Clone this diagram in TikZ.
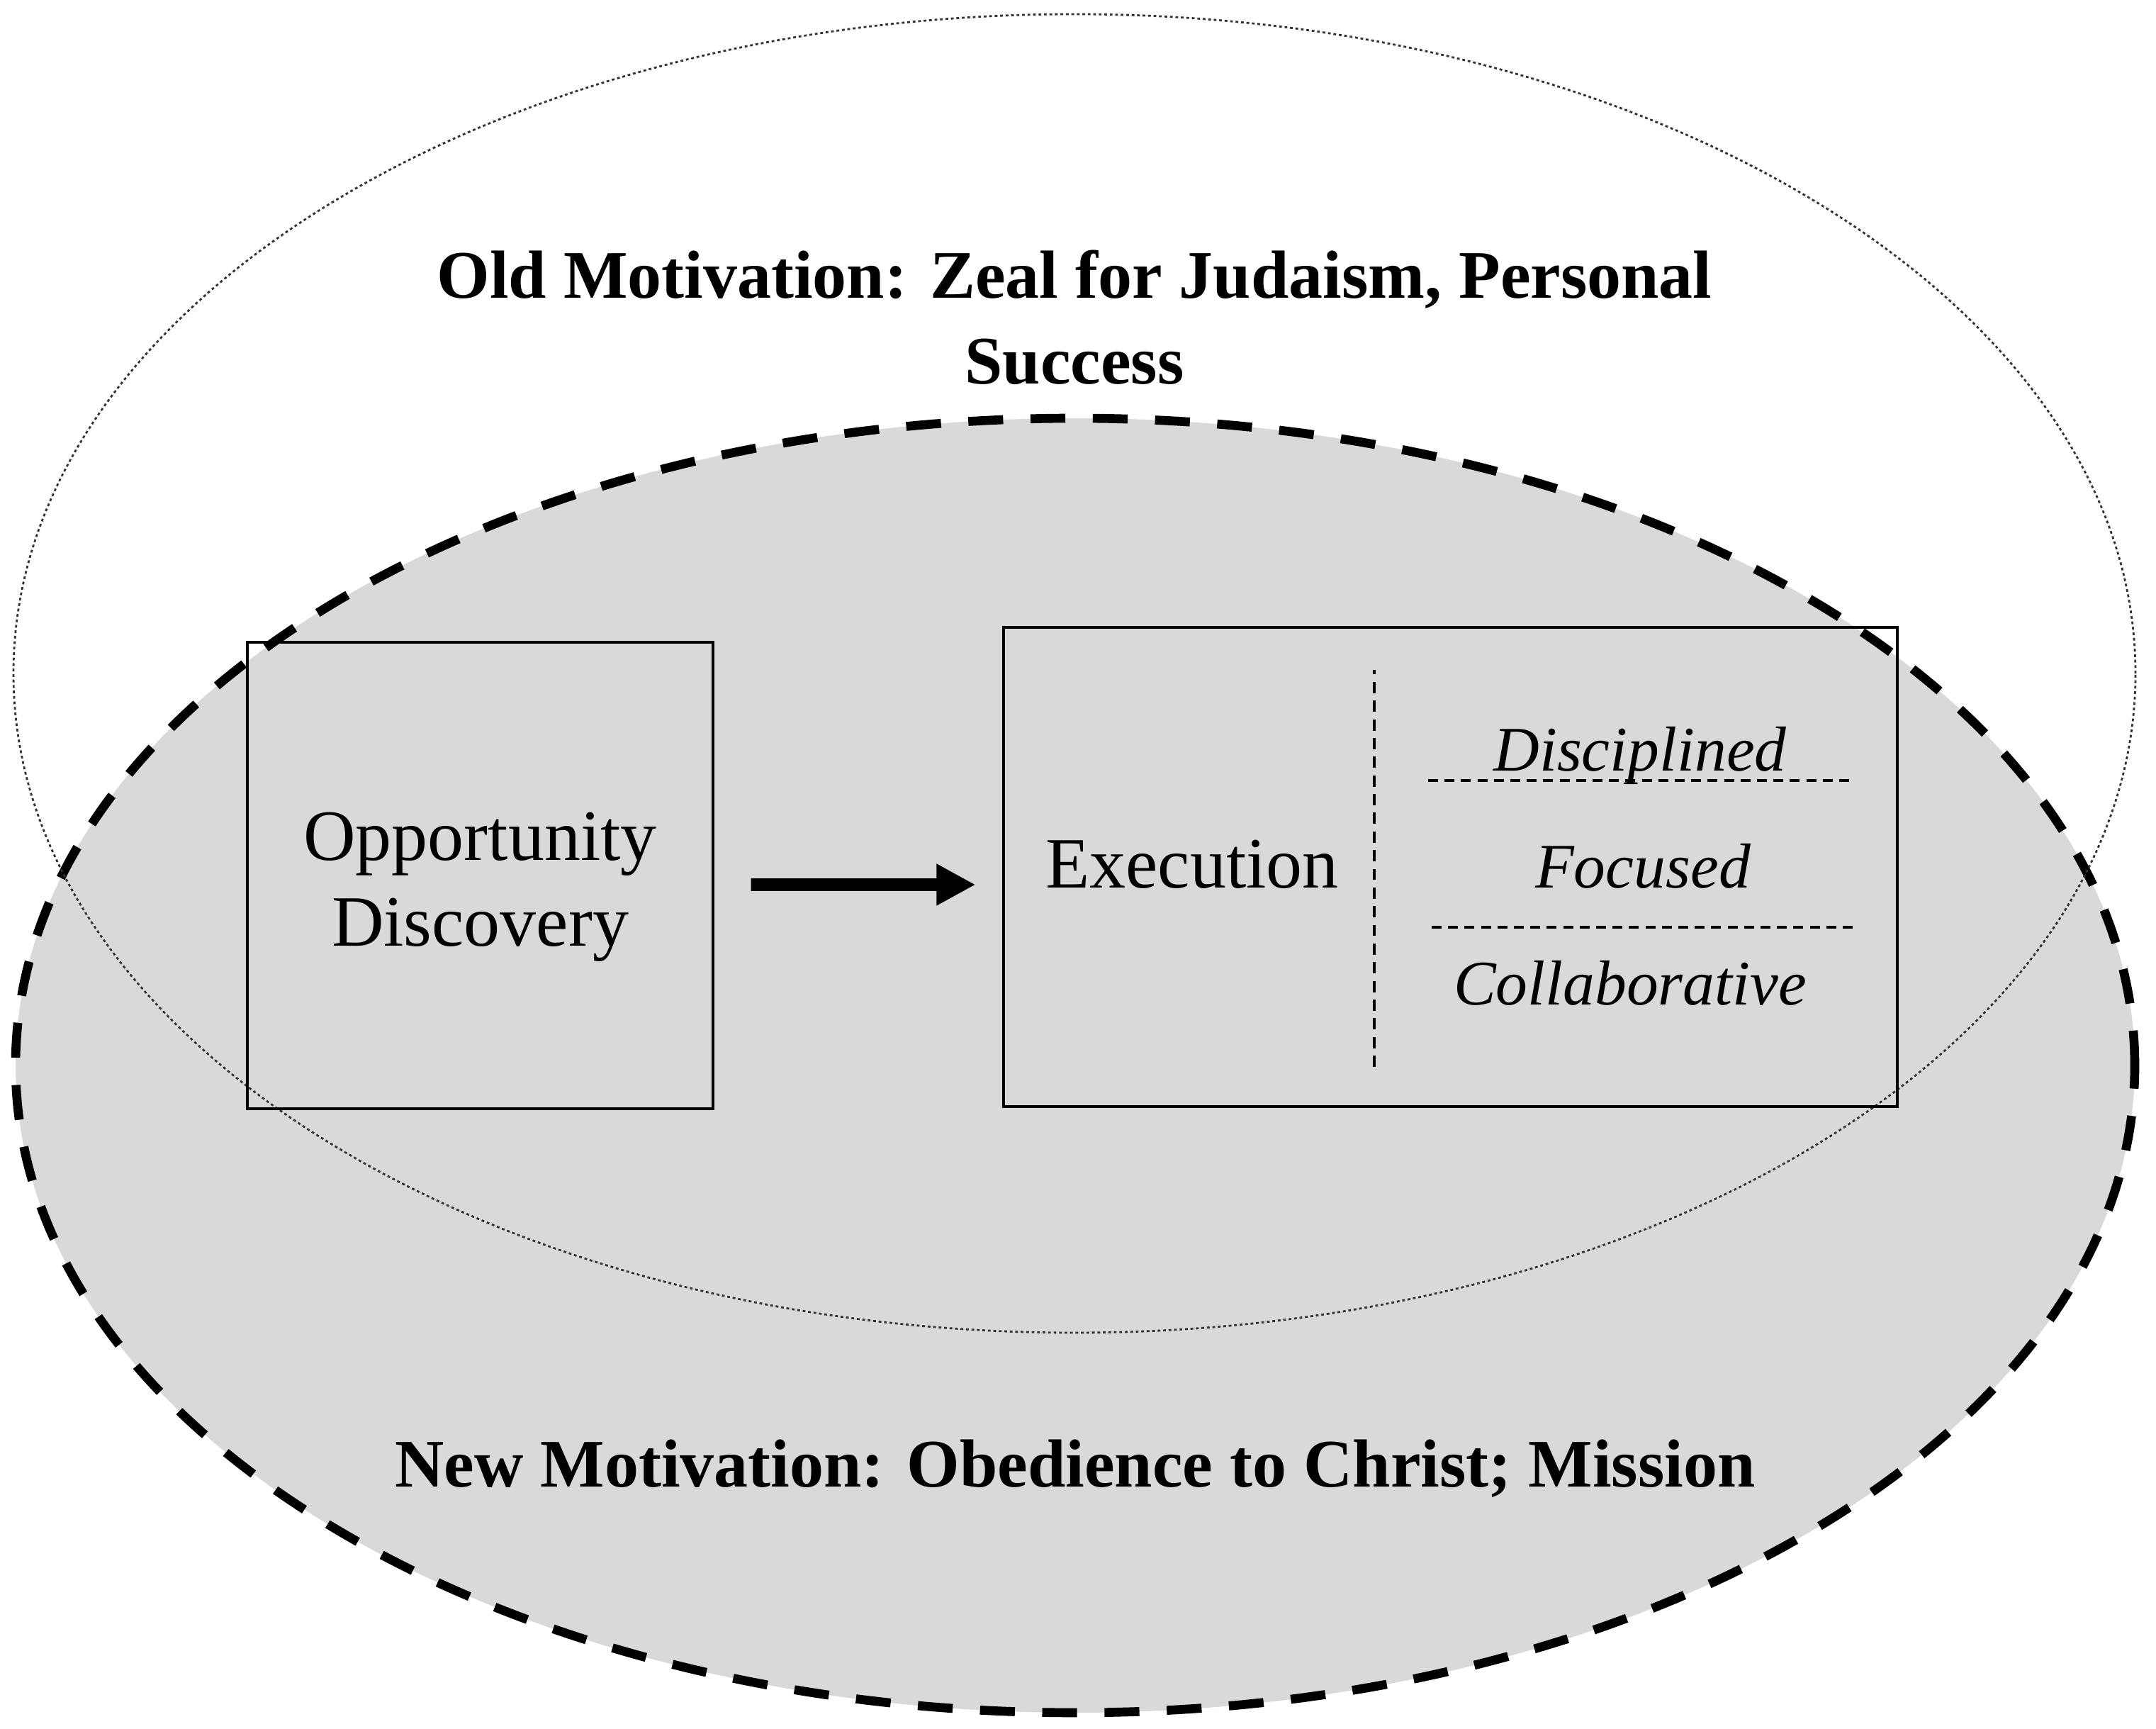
\documentclass[tikz,border=0pt]{standalone}
\usepackage{fontspec}
\setmainfont{Liberation Serif}
\usetikzlibrary{positioning, arrows.meta}

\begin{document}
\begin{tikzpicture}[
    font=\fontsize{29}{34.5}\selectfont,
    % one style per kind of line, text set in one family throughout
    newring/.style = {draw=black, line width=3.6pt, dash pattern=on 14pt off 11pt, fill=black!15},
    oldring/.style = {draw=black!80, line width=0.8pt, dash pattern=on 1.1pt off 1.1pt},
    box/.style     = {draw=black, line width=0.9pt, inner sep=0pt},
    vsplit/.style  = {draw=black, line width=0.9pt, dash pattern=on 4.5pt off 3pt},
    hsplit/.style  = {draw=black, line width=1.3pt, dash pattern=on 4pt off 2.6pt},
    heading/.style = {font=\fontsize{27.3}{34.5}\selectfont\bfseries, align=center, anchor=base},
    label/.style   = {anchor=base, inner sep=0pt},
    trait/.style   = {label, font=\fontsize{25.5}{34}\selectfont\itshape},
    flow/.style    = {-{Triangle[length=0.55cm, width=0.55cm]}, line width=5.1pt},
  ]

  \useasboundingbox (0,0) rectangle (30.42,24.39);

  %% ---------- the two motivations ----------
  \draw[newring] (15.17,9.36) ellipse [x radius=14.95, y radius=9.13];
  \draw[oldring] (15.16,14.89) ellipse [x radius=14.97, y radius=9.30];

  % base of a two-line node sits on its last line
  \node[heading] (old) at (15.16,18.97) {Old Motivation: Zeal for Judaism, Personal\\Success};
  \node[heading] (new) at (15.17,3.41) {New Motivation: Obedience to Christ; Mission};

  %% ---------- the process ----------
  \node[box, minimum width=6.57cm, minimum height=6.58cm] (opp) at (6.775,12.04) {};
  \node[align=center, inner sep=0pt] (oppname) at ([yshift=-0.16cm]opp.center) {Opportunity\\Discovery};
  \node[box, minimum width=12.61cm, minimum height=6.76cm] (exec) at (20.465,12.16) {};

  \draw[flow, shorten <=0.52cm, shorten >=0.38cm] ([yshift=-0.13cm]opp.east) -- ([yshift=-0.25cm]exec.west);

  \node[label] (execname) at (16.82,11.86) {Execution};
  \draw[vsplit] (19.39,9.34) -- (19.39,14.94);

  \node[trait] (disc) at (23.14,13.51) {Disciplined};
  \node[trait] (focus) at (23.18,11.86) {Focused};
  \node[trait] (collab) at (23.00,10.21) {Collaborative};

  \draw[hsplit] (20.15,13.38) -- (26.15,13.38);
  \draw[hsplit] (20.20,11.31) -- (26.19,11.31);
\end{tikzpicture}
\end{document}
